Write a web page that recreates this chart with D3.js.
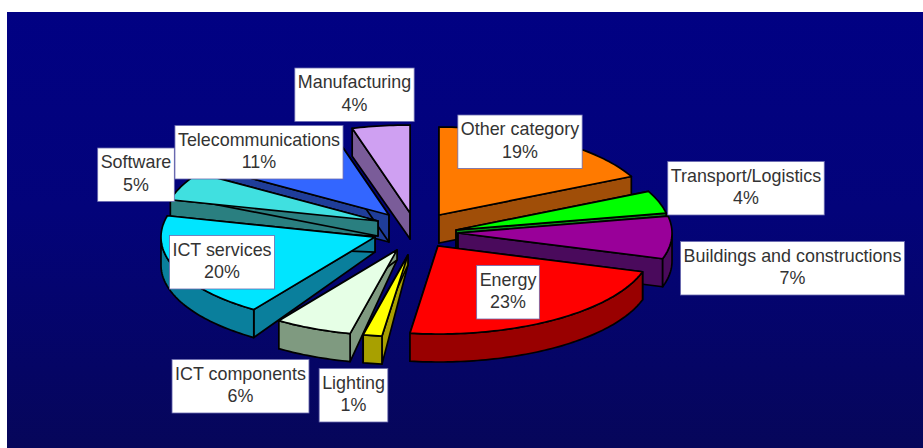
<!DOCTYPE html>
<html>
<head>
<meta charset="utf-8">
<script src="https://cdn.jsdelivr.net/npm/d3@7/dist/d3.min.js"></script>
<style>html,body{margin:0;padding:0;background:#fff;overflow:hidden}svg{display:block}</style>
</head>
<body>
<svg id="chart" width="923" height="448"></svg>
<script>
// ---- data ----
const categories = ["Other category","Transport/Logistics","Buildings and constructions","Energy","Lighting","ICT components","ICT services","Software","Telecommunications","Manufacturing"];
const percents = [19,4,7,23,1,6,20,5,11,4];

// ---- styling ----
const topColors  = ["#ff7a00","#00ff00","#990099","#ff0000","#ffff00","#e6ffe6","#00e5ff","#40e0e0","#3366ff","#cfa0f2"];
const sideColors = ["#a04e08","#0a8a14","#4a0a5c","#990000","#a8a000","#7f9a80","#0a7f9c","#2a7f80","#1f3d99","#7a5c99"];

// ---- layout of the exploded 3-D view ----
const explodeX = [0.070,0.150,0.159,0.065,-0.075,-0.126,-0.229,-0.215,-0.164,-0.065];
const explodeY = [-0.170,0.000,0.034,0.182,0.284,0.227,0.080,-0.102,-0.170,-0.193];
const radiusFactor = [1,1,1,1,0.93,0.975,1,1,1,1];
const innerDepth = [28,28,28,28,10,10,15,15,27,26];
const labelCx  = [520,746,792.5,508,353.5,240.5,222,136,259,354.5];
const labelCy  = [141.5,188,268,292,395,386,262,174.5,152,94.5];
const paintOrder = [0,1,2,3,8,9,7,6,5,4];
// the tilted view compresses angles: cumulative percent -> on-screen angle in degrees
const viewPercent = [0,19,23,30,53,54,60,80,85,96,100];
const viewDegrees = [0,64,79,107,187.5,193,214.5,284,303,344.3,360];

const width = 923, height = 448;
const svg = d3.select("#chart");

const defs = svg.append("defs");
const grad = defs.append("linearGradient").attr("id","bg").attr("x1",0).attr("x2",0).attr("y1",0).attr("y2",1);
grad.append("stop").attr("offset","0%").attr("stop-color","#010183");
grad.append("stop").attr("offset","45%").attr("stop-color","#03037a");
grad.append("stop").attr("offset","100%").attr("stop-color","#06065a");
svg.append("rect").attr("x",7).attr("y",12).attr("width",width-7).attr("height",height-12).attr("fill","url(#bg)");

const cx = 424, cy = 230, rx = 214, ry = 88, depth = 28;
const xScale = d3.scaleLinear().domain([-1,1]).range([cx-rx,cx+rx]);
const yScale = d3.scaleLinear().domain([-1,1]).range([cy-ry,cy+ry]);
const viewAngle = d3.scaleLinear().domain(viewPercent).range(viewDegrees.map(d => d*Math.PI/180));

const arcs = d3.pie().sort(null).value(d => d)(percents);
const toPercent = d3.scaleLinear().domain([0,2*Math.PI]).range([0,100]);

const line = d3.line().x(d => d[0]).y(d => d[1]);
const closed = pts => line(pts) + "Z";

function point(i, theta, r, drop) {
  const rr = r*radiusFactor[i];
  return [xScale(explodeX[i] + rr*Math.sin(theta)), yScale(explodeY[i] - rr*Math.cos(theta)) + (drop||0)];
}
function rim(i, a, b, drop) {
  const n = Math.max(2, Math.ceil((b-a)/0.02));
  return d3.range(n+1).map(k => point(i, a+(b-a)*k/n, 1, drop));
}

const g = svg.append("g").attr("stroke","#000").attr("stroke-linejoin","round");
paintOrder.forEach(i => {
  const a = viewAngle(toPercent(arcs[i].startAngle)), b = viewAngle(toPercent(arcs[i].endAngle));
  const slice = g.append("g").attr("class","slice");
  const apex = point(i,0,0), apexLow = point(i,0,0,innerDepth[i]);
  [a,b].forEach(t => {
    slice.append("path")
      .attr("d", closed([apex, point(i,t,1), point(i,t,1,depth), apexLow]))
      .attr("fill", sideColors[i]).attr("stroke-width",1.7);
  });
  const ra = Math.max(a, Math.PI/2), rb = Math.min(b, 3*Math.PI/2);
  if (rb > ra) {
    slice.append("path")
      .attr("d", closed(rim(i,ra,rb,0).concat(rim(i,ra,rb,depth).reverse())))
      .attr("fill", sideColors[i]).attr("stroke-width",1.7);
  }
  slice.append("path")
    .attr("d", closed([apex].concat(rim(i,a,b,0))))
    .attr("fill", topColors[i]).attr("stroke-width",1.7);
});

const fontSize = 17.9, lineGap = 22.6;
const labels = svg.append("g").attr("font-family","'Liberation Sans',Arial,sans-serif").attr("font-size",fontSize).attr("fill","#333");
categories.forEach((name,i) => {
  const lg = labels.append("g").attr("class","label");
  const box = lg.append("rect").attr("fill","#fff").attr("stroke","#6a6ab0").attr("stroke-width",0.8);
  const t1 = lg.append("text").attr("x",labelCx[i]).attr("y",labelCy[i]-6.5).attr("text-anchor","middle").text(name);
  lg.append("text").attr("x",labelCx[i]).attr("y",labelCy[i]-6.5+lineGap).attr("text-anchor","middle").text(percents[i]+"%");
  const w = t1.node().getComputedTextLength() + 6;
  box.attr("x",labelCx[i]-w/2).attr("y",labelCy[i]-26.5).attr("width",w).attr("height",53.5);
});
</script>
</body>
</html>
